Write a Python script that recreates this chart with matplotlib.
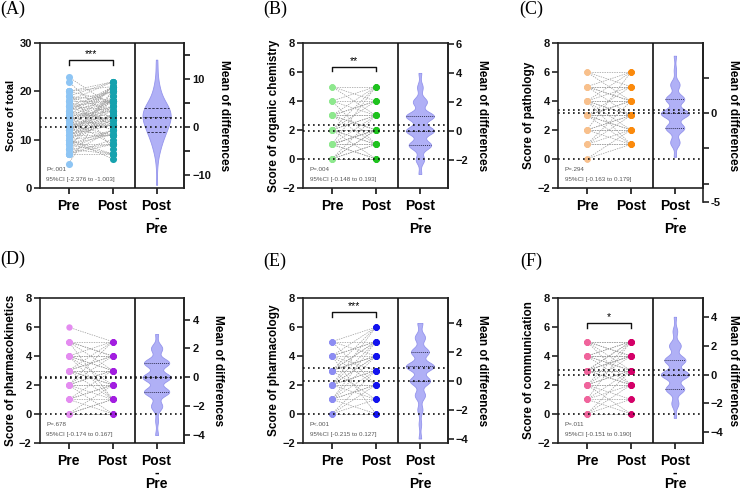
import numpy as np
import matplotlib
matplotlib.use('Agg')
import matplotlib.pyplot as plt

plt.rcParams['font.family'] = ['Liberation Sans', 'DejaVu Sans']

# ---------------- data ----------------
a_pre = [20, 22, 23, 18, 14, 17, 10, 19, 15, 10, 20, 16, 13, 9, 19, 17, 14, 12, 8, 18,
         15, 13, 11, 9, 7, 20, 17, 15, 13, 12, 10, 8, 20, 18, 16, 14, 13, 11, 9, 7,
         19, 17, 15, 14, 12, 11, 9, 7, 18, 16, 14, 12, 11, 10, 8, 16, 13, 12, 10, 7,
         15, 12, 9, 14, 10, 13, 11, 12, 10, 8, 5]
a_post = [8, 14, 17, 13, 9, 13, 6, 16, 12, 7, 18, 14, 11, 7, 18, 16, 13, 11, 7, 18,
          15, 13, 11, 9, 7, 21, 18, 16, 14, 13, 11, 9, 22, 20, 18, 16, 15, 13, 11, 9,
          22, 20, 18, 17, 15, 14, 12, 10, 22, 20, 18, 16, 15, 14, 12, 21, 18, 17, 15, 12,
          21, 18, 15, 21, 17, 21, 19, 21, 20, 20, 19]

b_pre = [4, 5, 3, 2, 5, 4, 3, 3, 2, 2, 1, 1, 5, 4, 3, 2, 2, 1, 1, 0,
         0, 3, 4, 3, 2, 2, 1, 1, 0, 0, 3, 1, 3, 2, 1, 0, 0, 2, 0, 1]
b_post = [1, 3, 1, 0, 4, 3, 2, 2, 1, 1, 0, 0, 5, 4, 3, 2, 2, 1, 1, 0,
          0, 3, 5, 4, 3, 3, 2, 2, 1, 1, 4, 2, 5, 4, 3, 2, 2, 5, 3, 5]

c_pre = [2, 1, 4, 3, 1, 0, 5, 4, 3, 3, 2, 2, 1, 0, 6, 5, 5, 4, 4, 3,
         3, 3, 2, 2, 1, 1, 6, 5, 4, 4, 3, 3, 2, 5, 6, 5, 4, 3, 4]
c_post = [6, 4, 6, 5, 3, 2, 6, 5, 4, 4, 3, 3, 2, 1, 6, 5, 5, 4, 4, 3,
          3, 3, 2, 2, 1, 1, 5, 4, 3, 3, 2, 2, 1, 4, 4, 3, 2, 1, 1]

d_pre = [2, 3, 2, 1, 0, 4, 3, 3, 2, 2, 1, 1, 0, 0, 5, 4, 4, 3, 3, 2,
         2, 1, 0, 0, 6, 5, 4, 4, 3, 3, 2, 1, 5, 5, 4, 3, 2, 4, 5]
d_post = [5, 5, 4, 3, 2, 5, 4, 4, 3, 3, 2, 2, 1, 1, 5, 4, 4, 3, 3, 2,
          2, 1, 0, 0, 5, 4, 3, 3, 2, 2, 1, 0, 4, 3, 2, 1, 0, 1, 1]

e_pre = [2, 1, 3, 2, 1, 0, 4, 3, 2, 2, 1, 0, 3, 5, 4, 4, 3, 3, 2, 2,
         1, 1, 0, 3, 5, 4, 3, 2, 2, 1, 0, 3, 5, 4, 2, 1, 4, 3, 5, 4]
e_post = [6, 5, 6, 5, 4, 3, 6, 5, 4, 4, 3, 2, 5, 6, 5, 5, 4, 4, 3, 3,
          2, 2, 1, 4, 5, 4, 3, 2, 2, 1, 0, 3, 4, 3, 1, 0, 2, 1, 2, 0]

f_pre = [1, 2, 0, 3, 2, 1, 0, 3, 4, 4, 3, 3, 2, 2, 1, 0, 3, 5, 5, 4,
         4, 3, 3, 3, 2, 2, 1, 0, 4, 5, 5, 4, 3, 3, 2, 1, 4, 5, 4, 2, 5]
f_post = [5, 5, 3, 5, 4, 3, 2, 5, 5, 5, 4, 4, 3, 3, 2, 1, 4, 5, 5, 4,
          4, 3, 3, 3, 2, 2, 1, 0, 4, 4, 4, 3, 2, 2, 1, 0, 3, 3, 2, 0, 2]

pre_means = [12.6, 1.95, 3.14, 2.53, 2.29, 2.72]
post_means = [14.4, 2.35, 3.36, 2.50, 3.17, 3.02]

panel_tags = ['(A)', '(B)', '(C)', '(D)', '(E)', '(F)']
ylabels = ['Score of total', 'Score of organic chemistry', 'Score of pathology',
           'Score of pharmacokinetics', 'Score of pharmacology', 'Score of communication']
p_texts = ['P<.001', 'P=.004', 'P=.294', 'P=.678', 'P<.001', 'P=.011']
ci_texts = ['95%CI [-2.376 to -1.003]', '95%CI [-0.148 to 0.193]', '95%CI [-0.163 to 0.179]',
            '95%CI [-0.174 to 0.167]', '95%CI [-0.215 to 0.127]', '95%CI [-0.151 to 0.190]']
stars = ['***', '**', '', '', '***', '*']
xlabels = ['Pre', 'Post', 'Post\n-\nPre']

# ---------------- styles ----------------
pre_colors = ['#8ec5f4', '#8ee88e', '#f8c08c', '#e48cf0', '#8c8cf2', '#f0649c']
post_colors = ['#16a2ae', '#1ec21e', '#fb8a0c', '#a21ee0', '#1212ee', '#d40068']
violin_fill = '#b0b0f6'
violin_edge = '#9494ec'
bracket_y = [26.5, 6.36, None, None, 7.06, 6.27]
bracket_drop = [1.0, 0.3, None, None, 0.35, 0.32]

W, H = 741, 490
fig = plt.figure(figsize=(W / 100, H / 100), dpi=100)

col_x = [40, 303.3, 558.3]
row_top = [43.3, 298.3]
box_w, box_h = 144.3, 144.4

datasets = [(a_pre, a_post), (b_pre, b_post), (c_pre, c_post),
            (d_pre, d_post), (e_pre, e_post), (f_pre, f_post)]

tag_pos = [(13, 9), (275, 9), (531, 9), (13, 259), (275, 261), (531, 261)]
right_label_x = [1.277, 1.236, 1.21, 1.236, 1.236, 1.21]


def kde_outline(vals, bw, n=300):
    vals = np.asarray(vals, float)
    ys = np.linspace(vals.min(), vals.max(), n)
    dens = np.exp(-0.5 * ((ys[:, None] - vals[None, :]) / bw) ** 2).sum(axis=1)
    return ys, dens / dens.max()


tick_kw = dict(direction='out', length=4, width=1.1, labelsize=8, pad=2, colors='#111111')

for i, (pre, post) in enumerate(datasets):
    r, c = divmod(i, 3)
    x0 = col_x[c] / W
    y0 = 1 - (row_top[r] + box_h) / H
    ax = fig.add_axes([x0, y0, box_w / W, box_h / H])
    pre = np.asarray(pre)
    post = np.asarray(post)
    diff = post - pre

    if i == 0:
        ylim = (0, 30)
        yt = [0, 10, 20, 30]
        bw = 1.5
    else:
        ylim = (-2, 8)
        yt = [-2, 0, 2, 4, 6, 8]
        bw = 0.3
    ax.set_xlim(-0.65, 2.63)
    ax.set_ylim(*ylim)
    ax.set_yticks(yt)

    # paired lines and dots
    for p, q in zip(pre, post):
        ax.plot([0, 1], [p, q], color='#9a9a9a', lw=0.5, ls=(0, (2, 1.5)), zorder=1)
    ms = 26 if i == 0 else 21
    ax.scatter(np.zeros(len(pre)), pre, s=ms, color=pre_colors[i], zorder=3, lw=0)
    ax.scatter(np.ones(len(post)), post, s=ms, color=post_colors[i], zorder=3, lw=0)

    ax.axvline(1.5, color='#111111', lw=1.2, zorder=4)
    for sp in ax.spines.values():
        sp.set_linewidth(1.2)
        sp.set_color('#222222')

    ax.set_xticks([0, 1, 2])
    ax.set_xticklabels(xlabels, fontsize=10, fontweight='bold', linespacing=0.78)
    ax.tick_params(axis='x', direction='out', length=4, width=1.1, pad=4)
    ax.tick_params(axis='y', **tick_kw)
    for lab in ax.get_yticklabels():
        lab.set_fontweight('bold')

    ax.text(-0.2, 0.5, ylabels[i], transform=ax.transAxes, rotation=90,
            ha='center', va='center', fontsize=8 if i == 0 else 8.5, fontweight='bold')
    ax.text(0.045, 0.125, p_texts[i], transform=ax.transAxes, fontsize=4.5,
            color='#555555', va='center')
    ax.text(0.045, 0.06, ci_texts[i], transform=ax.transAxes, fontsize=4.5,
            color='#555555', va='center')

    if stars[i]:
        yb = bracket_y[i]
        dr = bracket_drop[i]
        ax.plot([0, 0, 1, 1], [yb - dr, yb, yb, yb - dr], color='#111111', lw=1.0)
        ax.text(0.5, yb + 0.25 * dr, stars[i], ha='center', va='bottom', fontsize=7.5)

    # estimation (difference) axis
    pm = pre_means[i]
    ax_r = ax.twinx()
    ax_r.set_ylim(ylim[0] - pm, ylim[1] - pm)
    for name, sp in ax_r.spines.items():
        sp.set_visible(name == 'right')
        sp.set_linewidth(1.2)
        sp.set_color('#222222')

    ys, w = kde_outline(diff, bw)
    w = w * 0.32
    ax_r.fill_betweenx(ys, 2 - w, 2 + w, color=violin_fill, lw=0.6,
                       edgecolor=violin_edge, zorder=1)
    q1, med, q3 = np.percentile(diff, [25, 50, 75])
    qstyle = (0, (2.5, 1.5)) if i == 0 else (0, (1, 1))
    for qv, st in [(q1, qstyle), (med, (0, (1, 1))), (q3, qstyle)]:
        wq = np.interp(qv, ys, w)
        ax_r.plot([2 - wq, 2 + wq], [qv, qv], color='#333355', lw=0.7, ls=st, zorder=2)

    # mean lines and zero reference across the whole panel
    mean_lines = [0.0, post_means[i] - pm]
    if ylim[0] < 0:
        mean_lines.append(0 - pm)
    for yl in mean_lines:
        ax_r.plot([-0.65, 2.63], [yl, yl], color='#111111', lw=1.2,
                  ls=(0, (1, 2)), zorder=3, clip_on=False)
    ax_r.set_xlim(-0.65, 2.63)

    if i == 0:
        ax_r.set_yticks([-10, 0, 10])
        ax_r.set_yticks([-5, 5, 15], minor=True)
        ax_r.tick_params(axis='y', which='minor', direction='out', length=4, width=1.1)
    elif i == 1:
        ax_r.set_yticks([-2, 0, 2, 4, 6])
    elif i == 2:
        ax_r.set_yticks([])
    else:
        ax_r.set_yticks([-4, -2, 0, 2, 4])
    ax_r.tick_params(axis='y', **tick_kw)
    for lab in ax_r.get_yticklabels():
        lab.set_fontweight('bold')

    if i == 2:
        # the pathology panel has a longer, differently ticked right axis
        top_px = row_top[r]
        bot_px = 201.7
        ax_c = fig.add_axes([x0, 1 - bot_px / H, box_w / W, (bot_px - top_px) / H])
        ax_c.set_facecolor('none')
        for name, sp in ax_c.spines.items():
            sp.set_visible(name == 'right')
            sp.set_linewidth(1.2)
            sp.set_color('#222222')
        ax_c.set_xticks([])
        ax_c.yaxis.tick_right()
        ax_c.set_ylim(-5, 3.93)
        ax_c.set_yticks([2, 0, -2, -4, -5])
        ax_c.set_yticklabels(['', '0', '', '', '-5'], fontweight='bold')
        ax_c.tick_params(axis='y', **tick_kw)

    ax.text(right_label_x[i], 0.5, 'Mean of differences', transform=ax.transAxes,
            rotation=270, ha='center', va='center', fontsize=8.5, fontweight='bold')

    tx, ty = tag_pos[i]
    fig.text(tx / W, 1 - ty / H, panel_tags[i], ha='center', va='center',
             fontsize=13, family='Liberation Serif')

fig.savefig('out.png', dpi=100)
